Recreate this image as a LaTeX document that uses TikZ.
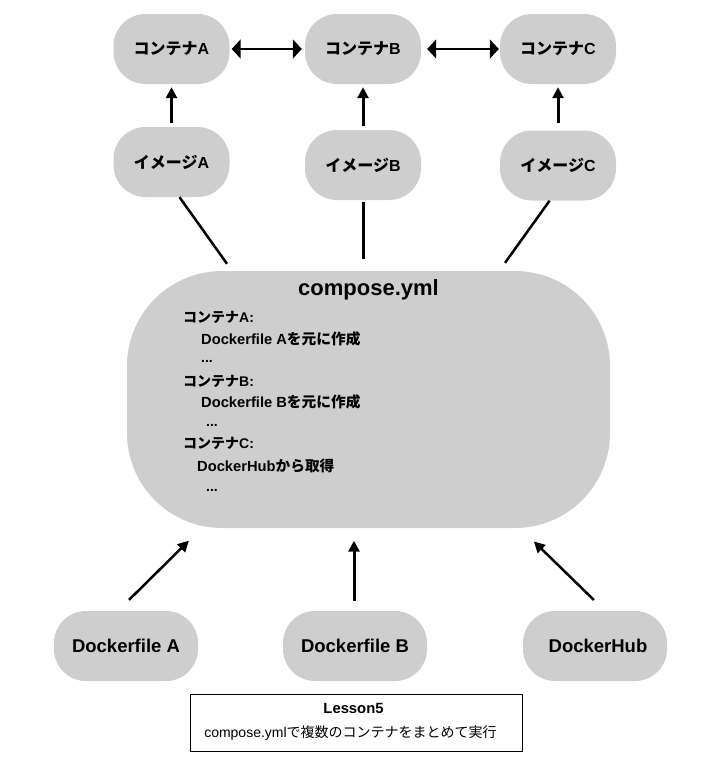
\documentclass[tikz,border=0pt]{standalone}
\usepackage{fontspec}
\usetikzlibrary{arrows.meta}
\setmainfont{Liberation Sans}
\newfontfamily\jpfont{Noto Sans CJK JP}
\definecolor{pillgray}{HTML}{CECECE}

\begin{document}
\begin{tikzpicture}[x=1pt, y=-1pt,
		pill/.style={fill=pillgray, rounded corners=32pt, inner sep=0pt, minimum width=116pt, minimum height=70pt, font=\fontsize{16}{18}\selectfont\bfseries},
		wide/.style={pill, minimum width=144pt, font=\fontsize{18.5}{20}\selectfont\bfseries},
		yml/.style={anchor=west, inner sep=0pt, text height=10pt, text depth=2pt, font=\fontsize{14}{16}\selectfont\bfseries},
		ymlwide/.style={yml, font=\fontsize{14.7}{16}\selectfont\bfseries},
		conn/.style={line width=2.5pt},
		tip/.style={conn, -{Triangle[length=11pt, width=11pt]}},
		both/.style={line width=2pt, {Triangle[length=9pt, width=19pt]}-{Triangle[length=9pt, width=19pt]}}]
			\useasboundingbox (0, 0) rectangle (719, 769);

			% Nodes
			\node[pill] (cona) at (171.5, 49) {{\jpfont コンテナ}A};
			\node[pill] (conb) at (363, 49) {{\jpfont コンテナ}B};
			\node[pill] (conc) at (558, 49) {{\jpfont コンテナ}C};
			\node[pill] (imga) at (171.5, 162) {{\jpfont イメージ}A};
			\node[pill] (imgb) at (363, 165) {{\jpfont イメージ}B};
			\node[pill] (imgc) at (558, 165.5) {{\jpfont イメージ}C};
			\node[fill=pillgray, rounded corners=95pt, inner sep=0pt, minimum width=483pt, minimum height=257pt] (compose) at (368.5, 399.5) {};
			\node[wide] (dfa) at (126, 646) {Dockerfile A};
			\node[wide] (dfb) at (355, 646) {Dockerfile B};
			\node[wide] (hub) at (595, 646) {\hspace*{6pt}DockerHub};

			% Text in compose.yml
			\node[inner sep=0pt, font=\fontsize{22}{24}\selectfont\bfseries] (title) at (368.5, 290) {compose.yml};
			\node[yml] (ymla) at (183, 318) {{\jpfont コンテナ}A:};
			\node[ymlwide] (ymlb) at (201, 340) {Dockerfile A{\jpfont を元に作成}};
			\node[yml] (ymlc) at (201, 358) {...};
			\node[yml] (ymld) at (183, 382) {{\jpfont コンテナ}B:};
			\node[ymlwide] (ymle) at (201, 403) {Dockerfile B{\jpfont を元に作成}};
			\node[yml] (ymlf) at (206, 422) {...};
			\node[yml] (ymlg) at (183, 444) {{\jpfont コンテナ}C:};
			\node[ymlwide] (ymlh) at (197, 467) {DockerHub{\jpfont から取得}};
			\node[yml] (ymli) at (206, 487) {...};

			% Lesson box
			\node[draw, line width=1pt, inner sep=0pt, minimum width=332pt, minimum height=57pt] (lesson) at (356, 722.5) {};
			\node[inner sep=0pt, font=\fontsize{14.8}{16}\selectfont\bfseries] (lessona) at (353.5, 708) {Lesson5};
			\node[inner sep=0pt, font=\fontsize{14}{16}\selectfont] (lessonb) at (350.5, 733) {compose.yml{\jpfont で複数のコンテナをまとめて実行}};

			% Edges
			\draw[both, shorten <=2pt, shorten >=3pt] (cona) -- (conb);
			\draw[both, shorten <=6pt, shorten >=1pt] (conb) -- (conc);
			\draw[tip, line width=3pt, shorten <=4pt, shorten >=3pt] (imga) -- (cona);
			\draw[tip, line width=3pt, shorten <=4pt, shorten >=3pt] (imgb) -- (conb);
			\draw[tip, line width=3pt, shorten <=7pt, shorten >=3pt] (imgc) -- (conc);
			\draw[conn, shorten >=8.6pt] ([xshift=8pt]imga.south) -- ([xshift=-136.5pt]compose.north);
			\draw[conn, line width=3pt, shorten <=2pt, shorten >=12pt] (imgb.south) -- ([xshift=-5.5pt]compose.north);
			\draw[conn, shorten >=9.8pt] ([xshift=-8.4pt]imgc.south) -- ([xshift=130.8pt]compose.north);
			\draw[tip, shorten <=15.5pt, shorten >=17.7pt] ([xshift=-8pt]dfa.north) -- ([xshift=-167pt]compose.south);
			\draw[tip, line width=3pt, shorten <=10pt, shorten >=12.5pt] ([xshift=-1pt]dfb.north) -- ([xshift=-14.5pt]compose.south);
			\draw[tip, shorten <=15.5pt, shorten >=19pt] ([xshift=10pt]hub.north) -- ([xshift=151.8pt]compose.south);
		\end{tikzpicture}
\end{document}
